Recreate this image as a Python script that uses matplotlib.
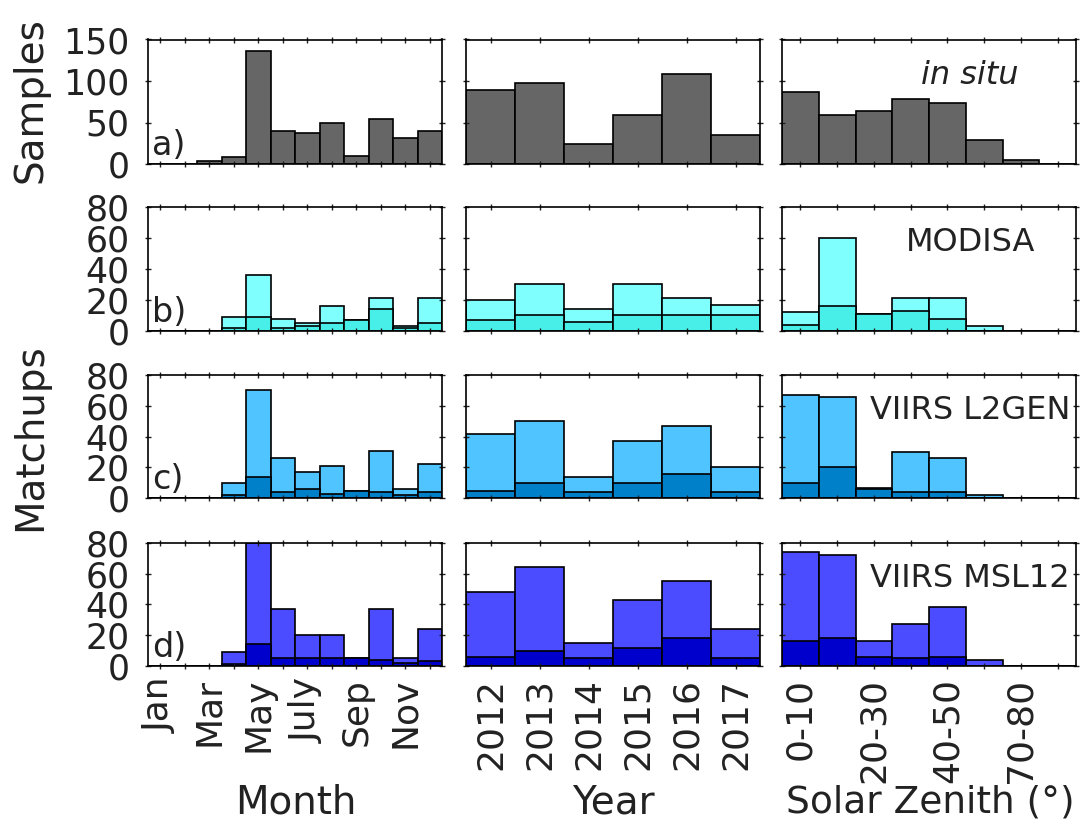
import numpy as np
import matplotlib
matplotlib.use("Agg")
import matplotlib.pyplot as plt

# bin labels
month_labels = ['Jan', '', 'Mar', '', 'May', '', 'July', '', 'Sep', '', 'Nov', '']
years = [2012, 2013, 2014, 2015, 2016, 2017]
sza_labels = ['0-10', '', '20-30', '', '40-50', '', '70-80', '']

# in situ samples
insitu_month = [0, 0, 4, 9, 136, 40, 37, 50, 10, 54, 31, 40]
insitu_year = [89, 97, 24, 59, 108, 35]
insitu_sza = [87, 59, 64, 78, 73, 29, 5, 0]

# MODISA matchups (all / subset)
modis_month_all = [0, 0, 0, 9, 36, 8, 5, 16, 7, 21, 3, 21]
modis_month_sub = [0, 0, 0, 2, 9, 2, 3, 5, 7, 14, 2, 5]
modis_year_all = [20, 30, 14, 30, 21, 17]
modis_year_sub = [7, 10, 6, 10, 10, 10]
modis_sza_all = [12, 60, 11, 21, 21, 3, 0, 0]
modis_sza_sub = [4, 16, 11, 13, 8, 0, 0, 0]

# VIIRS L2GEN matchups
l2gen_month_all = [0, 0, 0, 10, 70, 26, 17, 21, 5, 31, 6, 22]
l2gen_month_sub = [0, 0, 0, 2, 14, 4, 6, 3, 5, 4, 2, 4]
l2gen_year_all = [42, 50, 14, 37, 47, 20]
l2gen_year_sub = [5, 10, 4, 10, 16, 4]
l2gen_sza_all = [67, 66, 7, 30, 26, 2, 0, 0]
l2gen_sza_sub = [10, 20, 6, 4, 4, 0, 0, 0]

# VIIRS MSL12 matchups
msl_month_all = [0, 0, 0, 9, 80, 37, 20, 20, 5, 37, 5, 24]
msl_month_sub = [0, 0, 0, 1, 14, 5, 5, 5, 5, 4, 2, 3]
msl_year_all = [48, 64, 15, 43, 55, 24]
msl_year_sub = [6, 10, 5, 12, 18, 5]
msl_sza_all = [74, 72, 16, 27, 38, 4, 0, 0]
msl_sza_sub = [16, 18, 6, 5, 6, 0, 0, 0]

TXT = '#222222'
plt.rcParams['font.family'] = ['DejaVu Sans']
plt.rcParams['text.color'] = TXT
plt.rcParams['xtick.color'] = TXT
plt.rcParams['ytick.color'] = TXT

W, H = 1090, 824
fig = plt.figure(figsize=(W / 100, H / 100), dpi=100)

col_x = [148, 466, 782]
col_w = 294
row_y = [(39.5, 164), (206.7, 331), (375, 498.3), (542.7, 666)]

rows = [
    dict(month=(insitu_month, None), year=(insitu_year, None), sza=(insitu_sza, None),
         c_all='#666666', c_sub=None, ymax=150, yticks=[0, 50, 100, 150],
         tag='a)', name='in situ', italic=True),
    dict(month=(modis_month_all, modis_month_sub), year=(modis_year_all, modis_year_sub),
         sza=(modis_sza_all, modis_sza_sub),
         c_all='#80FFFF', c_sub='#48EEE8', ymax=80, yticks=[0, 20, 40, 60, 80],
         tag='b)', name='MODISA', italic=False),
    dict(month=(l2gen_month_all, l2gen_month_sub), year=(l2gen_year_all, l2gen_year_sub),
         sza=(l2gen_sza_all, l2gen_sza_sub),
         c_all='#50C4FF', c_sub='#0080C8', ymax=80, yticks=[0, 20, 40, 60, 80],
         tag='c)', name='VIIRS L2GEN', italic=False),
    dict(month=(msl_month_all, msl_month_sub), year=(msl_year_all, msl_year_sub),
         sza=(msl_sza_all, msl_sza_sub),
         c_all='#4B4BFF', c_sub='#0000CC', ymax=80, yticks=[0, 20, 40, 60, 80],
         tag='d)', name='VIIRS MSL12', italic=False),
]

x_month = np.arange(1, 13)
x_year = np.array(years)
x_sza = np.arange(1, 9)

for r, spec in enumerate(rows):
    top, bot = row_y[r]
    for c, key in enumerate(['month', 'year', 'sza']):
        ax = fig.add_axes([col_x[c] / W, 1 - bot / H, col_w / W, (bot - top) / H])
        xs = [x_month, x_year, x_sza][c]
        vals_all, vals_sub = spec[key]
        ax.bar(xs, vals_all, width=1.0, color=spec['c_all'], edgecolor='black', linewidth=1.2)
        if vals_sub is not None:
            ax.bar(xs, vals_sub, width=1.0, color=spec['c_sub'], edgecolor='black', linewidth=1.2)
        ax.set_xlim(xs[0] - 0.5, xs[-1] + 0.5)
        ax.set_ylim(0, spec['ymax'])
        ax.set_xticks(xs)
        ax.set_yticks(spec['yticks'])
        ax.tick_params(direction='inout', length=5, width=1, top=True, right=True)
        ax.tick_params(axis='y', pad=11)
        ax.tick_params(axis='x', pad=6)
        for s in ax.spines.values():
            s.set_linewidth(1.2)
        if c == 0:
            ax.set_yticklabels([str(t) for t in spec['yticks']], fontsize=25)
            ax.text(0.015, 0.02, spec['tag'], transform=ax.transAxes, fontsize=24,
                    ha='left', va='bottom')
        else:
            ax.set_yticklabels([])
        if r == 3:
            labels = [month_labels, [str(y) for y in years], sza_labels][c]
            ax.set_xticklabels(labels, rotation=90, fontsize=26)
        else:
            ax.set_xticklabels([])
        if c == 2:
            ax.text(0.64, 0.71, spec['name'], transform=ax.transAxes, fontsize=23,
                    ha='center', va='center', style='italic' if spec['italic'] else 'normal')

fig.text(30 / W, 1 - 100 / H, 'Samples', rotation=90, ha='center', va='center', fontsize=28)
fig.text(30 / W, 1 - 437 / H, 'Matchups', rotation=90, ha='center', va='center', fontsize=28)
fig.text(296 / W, 1 - 803 / H, 'Month', ha='center', va='center', fontsize=28)
fig.text(613 / W, 1 - 803 / H, 'Year', ha='center', va='center', fontsize=28)
fig.text(930 / W, 1 - 803 / H, 'Solar Zenith (°)', ha='center', va='center', fontsize=27)

fig.savefig('out.png', dpi=100, facecolor='white')
